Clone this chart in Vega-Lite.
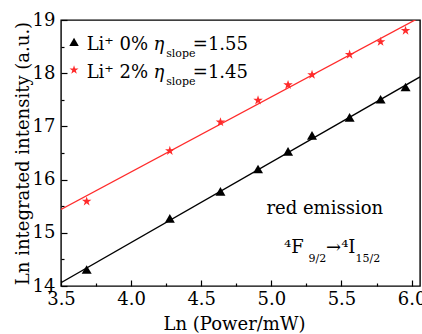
{
  "$schema": "https://vega.github.io/schema/vega-lite/v6.json",
  "width": 359,
  "height": 266,
  "autosize": {"type": "none"},
  "padding": {"left": 61, "top": 20, "right": 2, "bottom": 48},
  "background": "white",
  "config": {
    "view": {"stroke": "black", "strokeWidth": 1.4},
    "font": "DejaVu Serif",
    "text": {"font": "DejaVu Serif", "color": "black"},
    "axis": {
      "labelFont": "DejaVu Serif", "titleFont": "DejaVu Serif",
      "labelFontSize": 18, "titleFontSize": 18, "titleFontWeight": "normal",
      "labelColor": "black", "titleColor": "black", "tickColor": "black",
      "domain": false, "grid": false, "labelFlush": false, "labelOverlap": false, "tickWidth": 1.2
    }
  },
  "datasets": {
    "fits": [
      {"series": "Li0", "x": 3.5, "y": 14.06},
      {"series": "Li0", "x": 6.06, "y": 17.93},
      {"series": "Li2", "x": 3.5, "y": 15.44},
      {"series": "Li2", "x": 6.06, "y": 19.05}
    ],
    "points": [
      {"series": "Li0", "x": 3.683, "y": 14.31},
      {"series": "Li0", "x": 4.276, "y": 15.27},
      {"series": "Li0", "x": 4.637, "y": 15.78},
      {"series": "Li0", "x": 4.905, "y": 16.2},
      {"series": "Li0", "x": 5.119, "y": 16.53},
      {"series": "Li0", "x": 5.29, "y": 16.83},
      {"series": "Li0", "x": 5.558, "y": 17.17},
      {"series": "Li0", "x": 5.779, "y": 17.51},
      {"series": "Li0", "x": 5.957, "y": 17.74},
      {"series": "Li2", "x": 3.683, "y": 15.59},
      {"series": "Li2", "x": 4.276, "y": 16.54},
      {"series": "Li2", "x": 4.637, "y": 17.08},
      {"series": "Li2", "x": 4.905, "y": 17.49},
      {"series": "Li2", "x": 5.119, "y": 17.78},
      {"series": "Li2", "x": 5.29, "y": 17.97},
      {"series": "Li2", "x": 5.558, "y": 18.35},
      {"series": "Li2", "x": 5.779, "y": 18.59},
      {"series": "Li2", "x": 5.957, "y": 18.8}
    ],
    "legendSymbols": [
      {"series": "Li0", "x": 3.593, "y": 18.59},
      {"series": "Li2", "x": 3.593, "y": 18.06}
    ],
    "textRegular": [
      {"x": 3.683, "y": 18.436, "t": "Li⁺ 0%"},
      {"x": 4.44, "y": 18.436, "t": "=1.55"},
      {"x": 3.683, "y": 17.904, "t": "Li⁺ 2%"},
      {"x": 4.44, "y": 17.904, "t": "=1.45"},
      {"x": 4.965, "y": 15.36, "t": "red emission"},
      {"x": 5.09, "y": 14.62, "t": "⁴F"},
      {"x": 5.39, "y": 14.62, "t": "→⁴I"}
    ],
    "textItalic": [
      {"x": 4.16, "y": 18.436, "t": "η"},
      {"x": 4.16, "y": 17.904, "t": "η"}
    ],
    "textSmall": [
      {"x": 4.25, "y": 18.31, "t": "slope"},
      {"x": 4.25, "y": 17.778, "t": "slope"},
      {"x": 5.265, "y": 14.46, "t": "9/2"},
      {"x": 5.6, "y": 14.46, "t": "15/2"}
    ]
  },
  "encoding": {
    "x": {"field": "x", "type": "quantitative",
      "scale": {"domain": [3.5, 6.06], "nice": false, "zero": false},
      "axis": {"orient": "bottom", "values": [3.5, 3.75, 4, 4.25, 4.5, 4.75, 5, 5.25, 5.5, 5.75, 6],
        "labelExpr": "datum.value % 0.5 == 0 ? format(datum.value, '.1f') : ''",
        "tickSize": {"condition": {"test": "datum.value % 0.5 == 0", "value": -6}, "value": -3},
        "labelPadding": 10,
        "title": "Ln (Power/mW)", "titleX": 173, "titleY": 43, "titleBaseline": "alphabetic"}},
    "y": {"field": "y", "type": "quantitative",
      "scale": {"domain": [14, 19], "nice": false, "zero": false},
      "axis": {"orient": "left", "values": [14, 14.5, 15, 15.5, 16, 16.5, 17, 17.5, 18, 18.5, 19],
        "labelExpr": "datum.value % 1 == 0 ? format(datum.value, 'd') : ''",
        "tickSize": {"condition": {"test": "datum.value % 1 == 0", "value": -6}, "value": -3},
        "labelPadding": 12,
        "title": "Ln integrated intensity (a.u.)", "titleX": -38, "titleBaseline": "middle"}}
  },
  "layer": [
    {
      "data": {"name": "fits"},
      "mark": {"type": "line", "clip": true, "strokeWidth": 1.3},
      "encoding": {
        "color": {"field": "series", "type": "nominal", "scale": {"domain": ["Li0", "Li2"], "range": ["black", "#ff2b2b"]}, "legend": null}
      }
    },
    {
      "data": {"name": "points"},
      "mark": {"type": "point", "filled": true, "opacity": 1, "size": 100},
      "encoding": {
        "color": {"field": "series", "type": "nominal", "legend": null},
        "shape": {"field": "series", "type": "nominal", "scale": {"domain": ["Li0", "Li2"], "range": ["triangle-up", "M0,-1L0.225,-0.309L0.951,-0.309L0.363,0.118L0.588,0.809L0,0.382L-0.588,0.809L-0.363,0.118L-0.951,-0.309L-0.225,-0.309Z"]}, "legend": null}
      }
    },
    {
      "data": {"name": "legendSymbols"},
      "mark": {"type": "point", "filled": true, "opacity": 1, "size": 90},
      "encoding": {
        "color": {"field": "series", "type": "nominal", "legend": null},
        "shape": {"field": "series", "type": "nominal", "legend": null}
      }
    },
    {
      "data": {"name": "textRegular"},
      "mark": {"type": "text", "align": "left", "baseline": "alphabetic", "fontSize": 18},
      "encoding": {"text": {"field": "t"}}
    },
    {
      "data": {"name": "textItalic"},
      "mark": {"type": "text", "align": "left", "baseline": "alphabetic", "fontSize": 18, "fontStyle": "italic"},
      "encoding": {"text": {"field": "t"}}
    },
    {
      "data": {"name": "textSmall"},
      "mark": {"type": "text", "align": "left", "baseline": "alphabetic", "fontSize": 11},
      "encoding": {"text": {"field": "t"}}
    }
  ]
}
